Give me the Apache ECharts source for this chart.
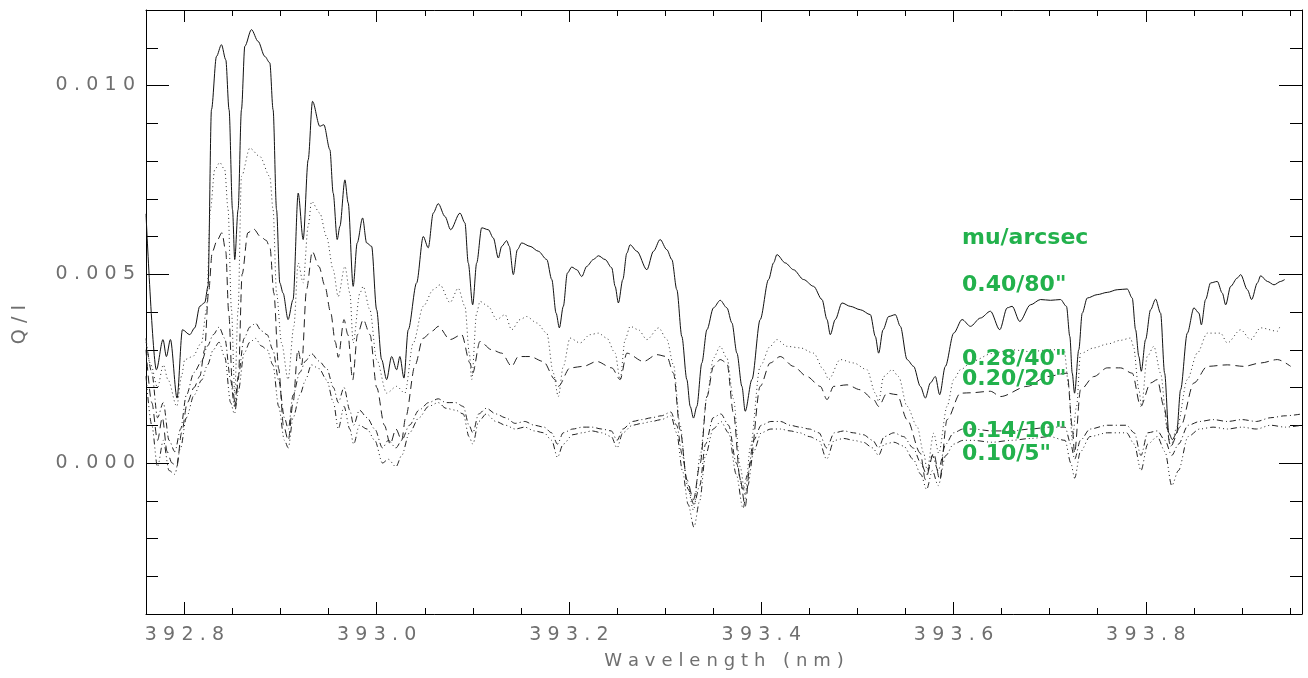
<!DOCTYPE html>
<html>
<head>
<meta charset="utf-8">
<script src="https://cdn.jsdelivr.net/npm/echarts@6/dist/echarts.min.js"></script>
<style>
html,body{margin:0;padding:0;background:#fff;}
#chart{width:1308px;height:678px;}
</style>
</head>
<body>
<div id="chart"></div>
<script>
// Axis extents and ticks
const X_MIN = 392.76, X_MAX = 393.9625;
const Y_MIN = -0.004, Y_MAX = 0.012;
const majorX = [392.8, 393.0, 393.2, 393.4, 393.6, 393.8];
const minorX = [392.85, 392.9, 392.95, 393.05, 393.1, 393.15, 393.25, 393.3, 393.35, 393.45, 393.5, 393.55, 393.65, 393.7, 393.75, 393.85, 393.9, 393.95];
const majorY = [0, 0.005, 0.01];
const minorY = [-0.003, -0.002, -0.001, 0.001, 0.002, 0.003, 0.004, 0.006, 0.007, 0.008, 0.009, 0.011];
const seriesNames = ['0.40/80"', '0.28/40"', '0.20/20"', '0.14/10"', '0.10/5"'];
const legendTitle = 'mu/arcsec';

// Q/I spectra: [wavelength (nm), Q/I]
const q040 = [[392.7600,0.00660],[392.7708,0.00247],[392.7777,0.00327],[392.7812,0.00282],[392.7854,0.00327],[392.7923,0.00172],[392.7979,0.00353],[392.8055,0.00340],[392.8107,0.00358],[392.8159,0.00415],[392.8211,0.00425],[392.8245,0.00468],[392.8281,0.00936],[392.8333,0.01077],[392.8385,0.01108],[392.8430,0.01068],[392.8464,0.00936],[392.8500,0.00671],[392.8523,0.00539],[392.8558,0.00671],[392.8593,0.00936],[392.8628,0.01104],[392.8697,0.01148],[392.8766,0.01117],[392.8836,0.01077],[392.8888,0.01060],[392.8922,0.00936],[392.8958,0.00671],[392.8992,0.00477],[392.9026,0.00450],[392.9078,0.00380],[392.9130,0.00433],[392.9183,0.00715],[392.9235,0.00592],[392.9287,0.00803],[392.9332,0.00958],[392.9408,0.00892],[392.9450,0.00896],[392.9513,0.00830],[392.9547,0.00715],[392.9589,0.00592],[392.9617,0.00627],[392.9669,0.00750],[392.9703,0.00689],[392.9755,0.00468],[392.9797,0.00583],[392.9853,0.00649],[392.9895,0.00583],[392.9947,0.00574],[392.9999,0.00406],[393.0051,0.00274],[393.0103,0.00221],[393.0155,0.00282],[393.0207,0.00247],[393.0241,0.00282],[393.0283,0.00225],[393.0328,0.00353],[393.0415,0.00477],[393.0484,0.00600],[393.0536,0.00570],[393.0588,0.00662],[393.0640,0.00687],[393.0710,0.00653],[393.0769,0.00618],[393.0866,0.00662],[393.0918,0.00636],[393.0952,0.00530],[393.0998,0.00419],[393.1040,0.00530],[393.1092,0.00623],[393.1161,0.00618],[393.1213,0.00596],[393.1265,0.00543],[393.1300,0.00574],[393.1352,0.00589],[393.1379,0.00574],[393.1421,0.00499],[393.1463,0.00565],[393.1508,0.00583],[393.1595,0.00574],[393.1681,0.00561],[393.1769,0.00539],[393.1821,0.00486],[393.1866,0.00397],[393.1900,0.00358],[393.1941,0.00415],[393.1983,0.00503],[393.2029,0.00519],[393.2081,0.00512],[393.2133,0.00494],[393.2185,0.00521],[393.2254,0.00539],[393.2306,0.00549],[393.2376,0.00539],[393.2445,0.00517],[393.2480,0.00468],[393.2514,0.00424],[393.2560,0.00486],[393.2602,0.00556],[393.2636,0.00578],[393.2706,0.00561],[393.2810,0.00512],[393.2879,0.00561],[393.2948,0.00592],[393.3018,0.00565],[393.3070,0.00539],[393.3122,0.00459],[393.3174,0.00335],[393.3226,0.00221],[393.3261,0.00150],[393.3295,0.00119],[393.3330,0.00150],[393.3382,0.00265],[393.3435,0.00353],[393.3503,0.00411],[393.3573,0.00431],[393.3643,0.00411],[393.3695,0.00371],[393.3747,0.00291],[393.3799,0.00203],[393.3833,0.00137],[393.3903,0.00221],[393.3989,0.00380],[393.4076,0.00486],[393.4128,0.00530],[393.4163,0.00552],[393.4250,0.00530],[393.4336,0.00512],[393.4440,0.00486],[393.4544,0.00468],[393.4632,0.00433],[393.4684,0.00380],[393.4718,0.00340],[393.4770,0.00380],[393.4840,0.00424],[393.4926,0.00415],[393.5031,0.00406],[393.5135,0.00393],[393.5187,0.00335],[393.5221,0.00291],[393.5267,0.00353],[393.5325,0.00388],[393.5395,0.00393],[393.5447,0.00362],[393.5517,0.00274],[393.5585,0.00256],[393.5655,0.00203],[393.5707,0.00172],[393.5759,0.00212],[393.5811,0.00229],[393.5856,0.00181],[393.5915,0.00256],[393.6002,0.00344],[393.6089,0.00380],[393.6176,0.00362],[393.6280,0.00384],[393.6384,0.00402],[393.6481,0.00353],[393.6558,0.00411],[393.6610,0.00415],[393.6689,0.00375],[393.6800,0.00419],[393.6905,0.00433],[393.7009,0.00431],[393.7113,0.00433],[393.7175,0.00415],[393.7210,0.00335],[393.7235,0.00238],[393.7259,0.00185],[393.7303,0.00300],[393.7339,0.00397],[393.7391,0.00437],[393.7495,0.00446],[393.7599,0.00452],[393.7703,0.00459],[393.7807,0.00461],[393.7859,0.00437],[393.7894,0.00353],[393.7928,0.00282],[393.7953,0.00243],[393.7998,0.00327],[393.8050,0.00406],[393.8102,0.00434],[393.8154,0.00397],[393.8196,0.00238],[393.8240,0.00079],[393.8276,0.00062],[393.8321,0.00079],[393.8362,0.00194],[393.8432,0.00344],[393.8501,0.00411],[393.8553,0.00397],[393.8578,0.00366],[393.8622,0.00433],[393.8674,0.00477],[393.8744,0.00481],[393.8796,0.00450],[393.8831,0.00419],[393.8883,0.00468],[393.8952,0.00490],[393.8987,0.00499],[393.9057,0.00459],[393.9101,0.00433],[393.9161,0.00477],[393.9195,0.00496],[393.9265,0.00481],[393.9334,0.00472],[393.9403,0.00481],[393.9445,0.00486]];

const q028 = [[392.7600,0.00320],[392.7650,0.00260],[392.7720,0.00200],[392.7780,0.00260],[392.7830,0.00220],[392.7920,0.00150],[392.7970,0.00230],[392.8003,0.00274],[392.8086,0.00282],[392.8177,0.00318],[392.8229,0.00406],[392.8270,0.00671],[392.8315,0.00777],[392.8367,0.00796],[392.8419,0.00777],[392.8454,0.00671],[392.8489,0.00406],[392.8523,0.00185],[392.8558,0.00406],[392.8593,0.00759],[392.8680,0.00834],[392.8784,0.00812],[392.8888,0.00759],[392.8922,0.00671],[392.8958,0.00450],[392.9010,0.00318],[392.9078,0.00221],[392.9138,0.00362],[392.9183,0.00530],[392.9235,0.00477],[392.9287,0.00627],[392.9322,0.00693],[392.9408,0.00662],[392.9478,0.00600],[392.9547,0.00512],[392.9599,0.00441],[392.9669,0.00521],[392.9721,0.00450],[392.9755,0.00318],[392.9825,0.00450],[392.9859,0.00468],[392.9929,0.00406],[392.9999,0.00274],[393.0103,0.00185],[393.0207,0.00203],[393.0293,0.00185],[393.0380,0.00318],[393.0484,0.00415],[393.0588,0.00459],[393.0658,0.00472],[393.0762,0.00425],[393.0848,0.00463],[393.0918,0.00415],[393.0963,0.00291],[393.0988,0.00221],[393.1040,0.00398],[393.1074,0.00428],[393.1161,0.00415],[393.1248,0.00380],[393.1335,0.00393],[393.1404,0.00353],[393.1491,0.00380],[393.1560,0.00388],[393.1665,0.00371],[393.1769,0.00344],[393.1837,0.00238],[393.1889,0.00176],[393.1941,0.00256],[393.2011,0.00331],[393.2115,0.00318],[393.2219,0.00340],[393.2306,0.00344],[393.2393,0.00331],[393.2480,0.00291],[393.2532,0.00221],[393.2584,0.00327],[393.2636,0.00362],[393.2722,0.00353],[393.2810,0.00327],[393.2933,0.00358],[393.3018,0.00327],[393.3087,0.00260],[393.3156,0.00100],[393.3226,-0.00050],[393.3295,-0.00125],[393.3365,0.00020],[393.3435,0.00176],[393.3503,0.00278],[393.3573,0.00309],[393.3643,0.00278],[393.3711,0.00170],[393.3781,-0.00010],[393.3833,-0.00085],[393.3885,0.00040],[393.3989,0.00256],[393.4093,0.00309],[393.4163,0.00327],[393.4267,0.00309],[393.4406,0.00305],[393.4544,0.00291],[393.4649,0.00247],[393.4701,0.00221],[393.4822,0.00274],[393.4961,0.00265],[393.5100,0.00247],[393.5187,0.00185],[393.5221,0.00163],[393.5273,0.00229],[393.5361,0.00247],[393.5429,0.00229],[393.5517,0.00150],[393.5621,0.00097],[393.5690,0.00026],[393.5725,-0.00018],[393.5794,0.00079],[393.5846,0.00026],[393.5933,0.00150],[393.6002,0.00221],[393.6072,0.00247],[393.6200,0.00270],[393.6400,0.00290],[393.6600,0.00300],[393.6800,0.00295],[393.7000,0.00300],[393.7150,0.00300],[393.7200,0.00200],[393.7235,0.00060],[393.7280,0.00150],[393.7321,0.00290],[393.7460,0.00305],[393.7599,0.00315],[393.7737,0.00325],[393.7841,0.00331],[393.7872,0.00309],[393.7928,0.00194],[393.7956,0.00150],[393.8015,0.00282],[393.8084,0.00309],[393.8154,0.00238],[393.8224,0.00088],[393.8258,0.00044],[393.8328,0.00097],[393.8432,0.00221],[393.8536,0.00291],[393.8640,0.00344],[393.8778,0.00344],[393.8848,0.00318],[393.8987,0.00353],[393.9091,0.00327],[393.9195,0.00358],[393.9369,0.00349],[393.9393,0.00360]];

const q020 = [[392.7600,0.00300],[392.7660,0.00160],[392.7720,0.00060],[392.7770,0.00120],[392.7820,0.00030],[392.7870,0.00000],[392.7920,-0.00010],[392.7970,0.00080],[392.8030,0.00160],[392.8100,0.00200],[392.8160,0.00230],[392.8210,0.00300],[392.8250,0.00450],[392.8290,0.00560],[392.8340,0.00590],[392.8390,0.00610],[392.8430,0.00560],[392.8460,0.00400],[392.8500,0.00200],[392.8530,0.00150],[392.8560,0.00220],[392.8600,0.00500],[392.8660,0.00610],[392.8720,0.00620],[392.8790,0.00600],[392.8850,0.00590],[392.8890,0.00570],[392.8930,0.00450],[392.8980,0.00250],[392.9030,0.00100],[392.9080,0.00060],[392.9130,0.00160],[392.9180,0.00300],[392.9220,0.00260],[392.9270,0.00460],[392.9330,0.00560],[392.9400,0.00520],[392.9460,0.00470],[392.9520,0.00400],[392.9570,0.00320],[392.9600,0.00280],[392.9660,0.00380],[392.9700,0.00340],[392.9750,0.00220],[392.9800,0.00340],[392.9860,0.00380],[392.9930,0.00340],[393.0000,0.00200],[393.0080,0.00100],[393.0140,0.00050],[393.0200,0.00090],[393.0260,0.00060],[393.0300,0.00120],[393.0400,0.00260],[393.0480,0.00330],[393.0580,0.00350],[393.0640,0.00362],[393.0762,0.00327],[393.0884,0.00340],[393.0970,0.00265],[393.0998,0.00238],[393.1074,0.00322],[393.1196,0.00300],[393.1300,0.00291],[393.1404,0.00256],[393.1473,0.00282],[393.1595,0.00282],[393.1733,0.00269],[393.1855,0.00221],[393.1889,0.00203],[393.2011,0.00252],[393.2150,0.00256],[393.2289,0.00269],[393.2445,0.00252],[393.2532,0.00221],[393.2602,0.00291],[393.2774,0.00269],[393.2914,0.00287],[393.3018,0.00282],[393.3087,0.00238],[393.3156,0.00088],[393.3226,-0.00044],[393.3295,-0.00097],[393.3365,0.00000],[393.3435,0.00176],[393.3503,0.00256],[393.3573,0.00274],[393.3643,0.00265],[393.3711,0.00132],[393.3781,-0.00044],[393.3833,-0.00115],[393.3885,0.00000],[393.3989,0.00203],[393.4093,0.00265],[393.4197,0.00282],[393.4336,0.00256],[393.4475,0.00229],[393.4614,0.00203],[393.4684,0.00168],[393.4753,0.00203],[393.4892,0.00207],[393.5031,0.00194],[393.5169,0.00168],[393.5221,0.00150],[393.5308,0.00185],[393.5413,0.00181],[393.5517,0.00115],[393.5655,0.00026],[393.5707,-0.00044],[393.5794,0.00026],[393.5856,-0.00044],[393.5933,0.00115],[393.6072,0.00185],[393.6176,0.00186],[393.6384,0.00190],[393.6488,0.00176],[393.6766,0.00203],[393.6974,0.00229],[393.7182,0.00238],[393.7235,0.00097],[393.7259,0.00026],[393.7321,0.00194],[393.7460,0.00229],[393.7599,0.00252],[393.7737,0.00252],[393.7859,0.00238],[393.7946,0.00150],[393.8050,0.00212],[393.8120,0.00221],[393.8188,0.00150],[393.8258,0.00044],[393.8362,0.00097],[393.8501,0.00212],[393.8640,0.00256],[393.8848,0.00260],[393.9021,0.00256],[393.9195,0.00265],[393.9369,0.00274],[393.9507,0.00256]];

const q014 = [[392.7600,0.00330],[392.7660,0.00240],[392.7720,0.00120],[392.7780,0.00160],[392.7840,0.00060],[392.7900,0.00030],[392.7960,0.00090],[392.8020,0.00180],[392.8100,0.00240],[392.8180,0.00270],[392.8240,0.00310],[392.8300,0.00340],[392.8360,0.00360],[392.8420,0.00330],[392.8480,0.00220],[392.8520,0.00150],[392.8560,0.00230],[392.8620,0.00330],[392.8680,0.00360],[392.8740,0.00370],[392.8800,0.00350],[392.8860,0.00340],[392.8920,0.00300],[392.8980,0.00220],[392.9040,0.00120],[392.9080,0.00090],[392.9130,0.00180],[392.9200,0.00240],[392.9260,0.00270],[392.9320,0.00290],[392.9400,0.00270],[392.9480,0.00250],[392.9550,0.00200],[392.9600,0.00160],[392.9660,0.00200],[392.9720,0.00140],[392.9760,0.00100],[392.9820,0.00140],[392.9900,0.00120],[392.9980,0.00090],[393.0060,0.00040],[393.0120,0.00060],[393.0200,0.00040],[393.0260,0.00060],[393.0340,0.00100],[393.0440,0.00140],[393.0540,0.00160],[393.0640,0.00170],[393.0720,0.00160],[393.0820,0.00160],[393.0900,0.00150],[393.0960,0.00100],[393.1000,0.00080],[393.1060,0.00130],[393.1140,0.00145],[393.1240,0.00130],[393.1340,0.00120],[393.1440,0.00105],[393.1540,0.00110],[393.1640,0.00100],[393.1740,0.00095],[393.1820,0.00080],[393.1880,0.00050],[393.1940,0.00080],[393.2040,0.00090],[393.2140,0.00095],[393.2240,0.00095],[393.2340,0.00090],[393.2440,0.00085],[393.2500,0.00060],[393.2560,0.00090],[393.2660,0.00110],[393.2760,0.00115],[393.2860,0.00120],[393.2960,0.00125],[393.3060,0.00135],[393.3120,0.00100],[393.3180,0.00020],[393.3240,-0.00070],[393.3300,-0.00110],[393.3360,-0.00060],[393.3420,0.00050],[393.3500,0.00120],[393.3580,0.00130],[393.3660,0.00100],[393.3740,0.00000],[393.3810,-0.00070],[393.3860,-0.00030],[393.3920,0.00060],[393.4000,0.00100],[393.4100,0.00110],[393.4200,0.00110],[393.4300,0.00100],[393.4400,0.00095],[393.4500,0.00090],[393.4600,0.00080],[393.4680,0.00040],[393.4760,0.00080],[393.4860,0.00085],[393.4960,0.00080],[393.5060,0.00075],[393.5160,0.00060],[393.5220,0.00040],[393.5280,0.00070],[393.5380,0.00080],[393.5480,0.00070],[393.5580,0.00040],[393.5660,0.00000],[393.5720,-0.00030],[393.5780,0.00020],[393.5840,-0.00020],[393.5920,0.00050],[393.6000,0.00080],[393.6100,0.00090],[393.6200,0.00090],[393.6400,0.00085],[393.6600,0.00085],[393.6800,0.00090],[393.7000,0.00095],[393.7160,0.00095],[393.7220,0.00050],[393.7260,0.00010],[393.7320,0.00060],[393.7420,0.00090],[393.7600,0.00100],[393.7800,0.00100],[393.7880,0.00080],[393.7950,0.00020],[393.8020,0.00080],[393.8120,0.00085],[393.8200,0.00060],[393.8270,0.00020],[393.8340,0.00050],[393.8440,0.00100],[393.8560,0.00110],[393.8700,0.00115],[393.8850,0.00110],[393.9000,0.00115],[393.9150,0.00110],[393.9300,0.00120],[393.9450,0.00125],[393.9625,0.00130]];

const q010 = [[392.7600,0.00230],[392.7660,0.00100],[392.7720,-0.00010],[392.7780,0.00060],[392.7840,-0.00020],[392.7900,-0.00030],[392.7960,0.00040],[392.8020,0.00120],[392.8100,0.00180],[392.8180,0.00220],[392.8240,0.00260],[392.8300,0.00300],[392.8360,0.00320],[392.8420,0.00280],[392.8480,0.00160],[392.8520,0.00130],[392.8560,0.00190],[392.8620,0.00290],[392.8680,0.00320],[392.8740,0.00330],[392.8800,0.00310],[392.8860,0.00300],[392.8920,0.00260],[392.8980,0.00150],[392.9040,0.00060],[392.9080,0.00040],[392.9130,0.00120],[392.9200,0.00180],[392.9260,0.00220],[392.9320,0.00260],[392.9400,0.00250],[392.9480,0.00220],[392.9550,0.00160],[392.9600,0.00090],[392.9660,0.00150],[392.9720,0.00090],[392.9760,0.00050],[392.9820,0.00100],[392.9900,0.00090],[392.9980,0.00060],[393.0060,0.00000],[393.0120,0.00010],[393.0200,-0.00010],[393.0260,0.00020],[393.0340,0.00080],[393.0440,0.00120],[393.0540,0.00150],[393.0640,0.00160],[393.0720,0.00145],[393.0820,0.00140],[393.0900,0.00130],[393.0960,0.00070],[393.1000,0.00050],[393.1060,0.00110],[393.1140,0.00130],[393.1240,0.00110],[393.1340,0.00100],[393.1440,0.00090],[393.1540,0.00095],[393.1640,0.00085],[393.1740,0.00080],[393.1820,0.00060],[393.1880,0.00015],[393.1940,0.00050],[393.2040,0.00075],[393.2140,0.00080],[393.2240,0.00085],[393.2340,0.00080],[393.2440,0.00070],[393.2500,0.00040],[393.2560,0.00080],[393.2660,0.00100],[393.2760,0.00105],[393.2860,0.00110],[393.2960,0.00115],[393.3060,0.00125],[393.3120,0.00080],[393.3180,-0.00020],[393.3240,-0.00110],[393.3300,-0.00170],[393.3360,-0.00100],[393.3420,0.00020],[393.3500,0.00090],[393.3580,0.00110],[393.3660,0.00080],[393.3740,-0.00030],[393.3810,-0.00120],[393.3860,-0.00060],[393.3920,0.00030],[393.4000,0.00080],[393.4100,0.00090],[393.4200,0.00090],[393.4300,0.00085],[393.4400,0.00080],[393.4500,0.00070],[393.4600,0.00060],[393.4680,0.00010],[393.4760,0.00060],[393.4860,0.00065],[393.4960,0.00060],[393.5060,0.00055],[393.5160,0.00040],[393.5220,0.00020],[393.5280,0.00050],[393.5380,0.00055],[393.5480,0.00045],[393.5580,0.00010],[393.5660,-0.00030],[393.5720,-0.00070],[393.5780,-0.00020],[393.5840,-0.00060],[393.5920,0.00020],[393.6000,0.00050],[393.6100,0.00060],[393.6200,0.00060],[393.6400,0.00055],[393.6600,0.00060],[393.6800,0.00065],[393.7000,0.00070],[393.7160,0.00060],[393.7220,0.00000],[393.7260,-0.00040],[393.7320,0.00030],[393.7420,0.00070],[393.7600,0.00080],[393.7800,0.00080],[393.7880,0.00050],[393.7950,-0.00020],[393.8020,0.00050],[393.8120,0.00070],[393.8200,0.00030],[393.8270,-0.00060],[393.8340,-0.00020],[393.8440,0.00070],[393.8560,0.00090],[393.8700,0.00095],[393.8850,0.00090],[393.9000,0.00095],[393.9150,0.00090],[393.9300,0.00100],[393.9450,0.00095],[393.9625,0.00100]];

const LABEL_FONT = '"DejaVu Sans", sans-serif';
const GRAY = '#6f6f6f';
const spaced = s => s.split('').join('\u2004');

function xAxisDef(position, ticks, len, withLabel, withLine) {
  const ax = {
    type: 'value', min: X_MIN, max: X_MAX, position: position,
    axisLine: { show: withLine, onZero: false, lineStyle: { color: '#000', width: 1 } },
    axisTick: { show: true, inside: true, length: len, customValues: ticks, lineStyle: { color: '#000', width: 1 } },
    axisLabel: { show: withLabel, customValues: ticks, margin: 12, color: GRAY, fontSize: 19, fontFamily: LABEL_FONT,
      formatter: v => spaced(Number(v).toFixed(1)) },
    splitLine: { show: false }
  };
  if (withLabel) {
    ax.name = spaced('Wavelength (nm)');
    ax.nameLocation = 'middle';
    ax.nameGap = 38;
    ax.nameTextStyle = { color: GRAY, fontSize: 18, fontFamily: LABEL_FONT };
  }
  return ax;
}
function yAxisDef(position, ticks, len, withLabel, withLine) {
  const ax = {
    type: 'value', min: Y_MIN, max: Y_MAX, position: position,
    axisLine: { show: withLine, onZero: false, lineStyle: { color: '#000', width: 1 } },
    axisTick: { show: true, inside: true, length: len, customValues: ticks, lineStyle: { color: '#000', width: 1 } },
    axisLabel: { show: withLabel, customValues: ticks, margin: 11, color: GRAY, fontSize: 19, fontFamily: LABEL_FONT,
      formatter: v => spaced(Number(v).toFixed(3)) },
    splitLine: { show: false }
  };
  if (withLabel) {
    ax.name = spaced('Q/I') + '\u2004\u2004\u2004\u2004';
    ax.nameLocation = 'middle';
    ax.nameGap = 116;
    ax.nameRotate = 90;
    ax.nameTextStyle = { color: GRAY, fontSize: 19, fontFamily: LABEL_FONT };
  }
  return ax;
}

const spectra = [q040, q028, q020, q014, q010];
const dashes = ['solid', [1, 3], [8, 5], [6, 3, 1, 3], [6, 3, 1, 3, 1, 3, 1, 3]];
const colors = ['#111', '#333', '#222', '#222', '#222'];

const chart = echarts.init(document.getElementById('chart'), null, { renderer: 'canvas' });
const GREEN = '#22b14c';
const labelY = [238, 285.5, 359, 379.5, 430.8, 454.5];
const labelTexts = [legendTitle].concat(seriesNames);

chart.setOption({
  animation: false,
  backgroundColor: '#fff',
  grid: { left: 146, right: 6, top: 10, bottom: 64, containLabel: false },
  xAxis: [
    xAxisDef('bottom', majorX, 12, true, true),
    xAxisDef('bottom', minorX, 6, false, false),
    xAxisDef('top', majorX, 12, false, true),
    xAxisDef('top', minorX, 6, false, false)
  ],
  yAxis: [
    yAxisDef('left', majorY, 23, true, true),
    yAxisDef('left', minorY, 12, false, false),
    yAxisDef('right', majorY, 23, false, true),
    yAxisDef('right', minorY, 12, false, false)
  ],
  series: spectra.map((d, i) => ({
    name: seriesNames[i], type: 'line', data: d, xAxisIndex: 0, yAxisIndex: 0,
    showSymbol: false, symbol: 'none', clip: true,
    smooth: 0.3, smoothMonotone: 'x',
    lineStyle: { color: colors[i], width: 1, type: dashes[i] },
    emphasis: { disabled: true }
  })),
  graphic: labelTexts.map((t, i) => ({
    type: 'text', x: 962, y: labelY[i], z: 100,
    style: { text: t, fill: GREEN, font: 'bold 22px "DejaVu Sans", sans-serif', verticalAlign: 'middle', align: 'left' }
  }))
});
</script>
</body>
</html>
